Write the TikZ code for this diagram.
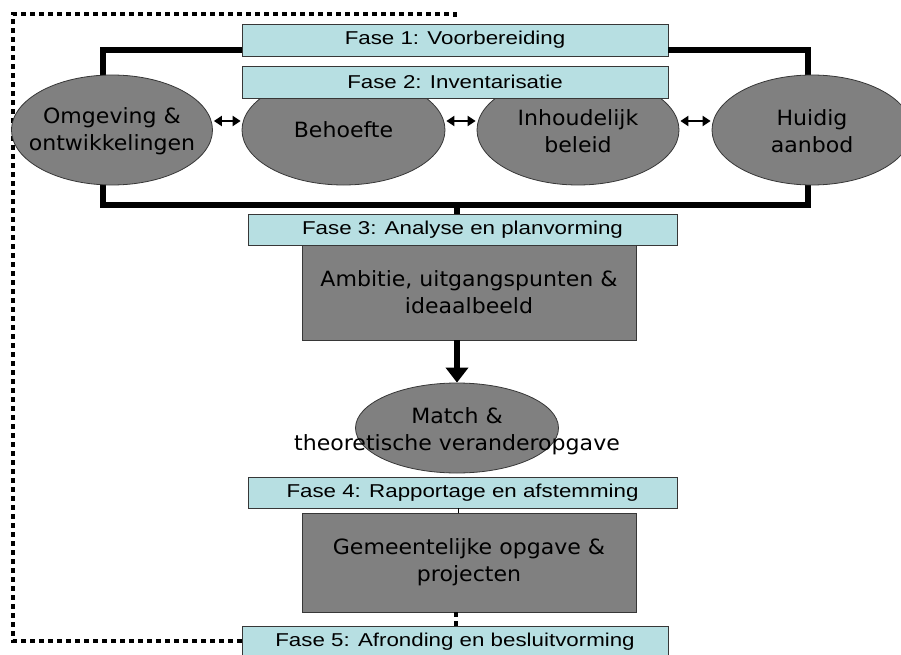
\documentclass[tikz,border=0pt]{standalone}
\usepackage{fontspec}
\usetikzlibrary{shapes.geometric,arrows.meta}
\newfontfamily\fasefont[FakeStretch=1.2]{Liberation Sans}
\newfontfamily\bubblefont[FakeStretch=1.05]{DejaVu Sans}
\definecolor{fasefill}{RGB}{183,223,226}
\definecolor{bodyfill}{RGB}{128,128,128}
\definecolor{edgegray}{RGB}{55,55,55}

\begin{document}
\begin{tikzpicture}[x=1pt,y=-1pt,
  fasebox/.style={draw=edgegray, line width=0.8pt, fill=fasefill, inner sep=0pt,
    font=\fasefont\fontsize{18.6}{22}\selectfont},
  bubble/.style={ellipse, draw=edgegray, line width=0.8pt, fill=bodyfill, inner sep=0pt},
  bubbletext/.style={align=center, inner sep=0pt, font=\bubblefont\fontsize{21}{27}\selectfont},
  block/.style={draw=edgegray, line width=0.8pt, fill=bodyfill, inner sep=0pt,
    align=center, font=\bubblefont\fontsize{21}{27}\selectfont},
  bracket/.style={line width=5.5pt},
  loopline/.style={line width=4.5pt, dash pattern=on 4.5pt off 4.5pt},
  twoway/.style={line width=2.8pt, {Triangle[width=10pt,length=8pt]}-{Triangle[width=10pt,length=8pt]}, shorten <=1pt, shorten >=1pt},
  down/.style={line width=5.5pt, -{Triangle[width=22pt,length=15pt]}}
]
\useasboundingbox (0,0) rectangle (901,655);

% phase boxes and the content blocks
\node[fasebox, minimum width=426pt, minimum height=32pt] (f1) at (455,40) {Fase 1: Voorbereiding};
\node[fasebox, minimum width=429pt, minimum height=31pt] (f3) at (462.5,229.5) {Fase 3: Analyse en planvorming};
\node[block, minimum width=334pt, minimum height=95pt] (amb) at (469,292.5) {Ambitie, uitgangspunten \&\\ideaalbeeld};
\node[fasebox, minimum width=429pt, minimum height=31pt] (f4) at (462.5,492.5) {Fase 4: Rapportage en afstemming};
\node[block, minimum width=334pt, minimum height=99pt] (gem) at (469,562.5) {Gemeentelijke opgave \&\\projecten};
\node[fasebox, minimum width=426pt, minimum height=32pt] (f5) at (455,642) {Fase 5: Afronding en besluitvorming};

% feedback loop from phase 5 back to phase 1
\coordinate (lb) at (13,641);
\coordinate (lt) at (13,14);
\coordinate (rt) at (455,14);
\coordinate (re) at (455,19);
\draw[loopline] (f5.west |- lb) -- (lb) -- (lt) -- (rt) -- (re);
\draw[loopline] (gem.south -| 456,0) -- (f5.north -| 456,0);

% inventory brackets
\coordinate (tl) at (103,50);
\coordinate (tr) at (808,50);
\coordinate (bl) at (103,205);
\coordinate (br) at (808,205);
\coordinate (bm) at (457,205);
\draw[bracket] (f1.west |- tl) -- (tl) -- (103,77);
\draw[bracket] (f1.east |- tr) -- (tr) -- (808,77);
\draw[bracket] (103,183) -- (bl) -- (br) -- (808,183);
\draw[bracket] (bm) -- (bm |- f3.north);

% inventory subjects
\node[bubble, minimum width=201pt, minimum height=110pt] (omg) at (112,130) {};
\node[bubble, minimum width=203pt, minimum height=110pt] (beh) at (343.5,130) {};
\node[bubble, minimum width=202pt, minimum height=110pt] (inh) at (578,130) {};
\node[bubble, minimum width=200pt, minimum height=110pt] (hui) at (812,130) {};
\node[bubbletext] (omgtxt) at (112,131) {Omgeving \&\\ontwikkelingen};
\node[bubbletext] (behtxt) at (343.5,130) {Behoefte};
\node[bubbletext] (inhtxt) at (578,131) {Inhoudelijk\\beleid};
\node[bubbletext] (huitxt) at (812,131) {Huidig\\aanbod};

% phase 2 label sits over the middle subjects
\node[fasebox, minimum width=426pt, minimum height=32pt] (f2) at (455,82) {Fase 2: Inventarisatie};

\draw[twoway] (omg.east |- 0,121) -- (beh.west |- 0,121);
\draw[twoway] (beh.east |- 0,121) -- (inh.west |- 0,121);
\draw[twoway] (inh.east |- 0,121) -- (hui.west |- 0,121);

% match
\node[bubble, minimum width=203pt, minimum height=90pt] (match) at (457,428) {};
\node[bubbletext] (matchtxt) at (457,431) {Match \&\\theoretische veranderopgave};
\draw[down] (amb.south -| match.north) -- (match.north);
\draw[line width=0.8pt] (f4.south -| 458,0) -- (gem.north -| 458,0);
\end{tikzpicture}
\end{document}
